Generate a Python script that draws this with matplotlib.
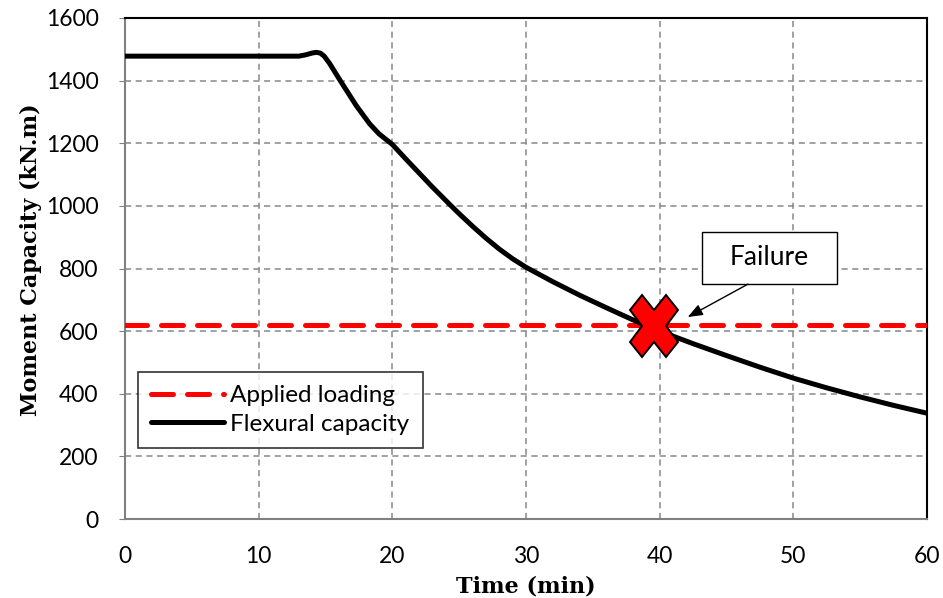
import matplotlib
matplotlib.use("Agg")
import matplotlib.pyplot as plt
from matplotlib.markers import MarkerStyle
from matplotlib.patches import Rectangle
from matplotlib.transforms import Affine2D

# flexural capacity curve
time_min = [0, 5, 10, 13.0, 13.5, 14.0, 14.3, 14.6, 14.9, 15.3, 16.1, 17.3, 18.3, 19.0,
            20.0, 21.0, 22.0, 23.0, 24.4, 25.0, 26.0, 27.0, 28.0, 29.0, 30.0, 32.0,
            34.0, 36.0, 38.0, 40.0, 42.5, 45.0, 47.5, 50.0, 52.5, 55.0, 57.5, 60.0]
capacity = [1478, 1478, 1478, 1478, 1482, 1488, 1490, 1488, 1478, 1455, 1400, 1320, 1262,
            1230, 1196, 1150, 1105, 1060, 1000, 975, 935, 897, 862, 831, 804, 758,
            715, 675, 636, 600, 560, 522, 485, 450, 419, 390, 363, 338]

load_time = [0, 60]
load_value = [620, 620]

failure_time = 39.6
failure_value = 615

x_ticks = [0, 10, 20, 30, 40, 50, 60]
y_ticks = [0, 200, 400, 600, 800, 1000, 1200, 1400, 1600]

sans = "Lato"
serif = "DejaVu Serif"

fig = plt.figure(figsize=(9.43, 5.98), dpi=100)
ax = fig.add_axes([0.1326, 0.132, 0.8504, 0.838])

ax.plot(load_time, load_value, color="#ff0000", lw=3.6, dashes=(4.4, 2.8),
        dash_capstyle="round", label="Applied loading", zorder=3)
ax.plot(time_min, capacity, color="black", lw=3.6, solid_capstyle="round",
        solid_joinstyle="round", label="Flexural capacity", zorder=4)

xmark = MarkerStyle("X", transform=Affine2D().scale(0.78, 1.0))
ax.plot([failure_time], [failure_value], marker=xmark, markersize=45,
        markerfacecolor="#ff0000", markeredgecolor="black", markeredgewidth=1.4,
        linestyle="none", zorder=5)

# "Failure" callout: box, text and arrow
ax.add_patch(Rectangle((43.15, 750), 10.1, 167, fc="white", ec="black", lw=1.0, zorder=6))
ax.text(48.2, 834, "Failure", fontsize=19, family=sans, ha="center", va="center", zorder=7)
ax.annotate("", xy=(42.1, 645), xytext=(46.6, 750),
            arrowprops=dict(arrowstyle="-|>,head_length=0.9,head_width=0.35",
                            color="black", lw=1.0, shrinkA=0, shrinkB=0),
            zorder=6)

ax.set_xlim(0, 60)
ax.set_ylim(0, 1600)
ax.set_xticks(x_ticks)
ax.set_yticks(y_ticks)
ax.grid(True, color="#888888", linestyle=(0, (4, 3)), lw=1.1)
ax.tick_params(axis="both", labelsize=16.5, color="#808080", direction="out")
ax.tick_params(axis="y", length=4, pad=15)
ax.tick_params(axis="x", length=0, pad=19.5)
for lab in ax.get_xticklabels() + ax.get_yticklabels():
    lab.set_family(sans)

for side in ("left", "bottom"):
    ax.spines[side].set_color("#808080")
    ax.spines[side].set_linewidth(1.5)
for side in ("top", "right"):
    ax.spines[side].set_color("black")
    ax.spines[side].set_linewidth(1.5)

ax.set_xlabel("Time (min)", family=serif, fontweight="bold", fontsize=16, labelpad=6)
ax.set_ylabel("Moment Capacity (kN.m)", family=serif, fontweight="bold", fontsize=16)
ax.yaxis.set_label_coords(-0.103, 0.517)

leg = ax.legend(loc="lower left", bbox_to_anchor=(0.016, 0.142),
                prop={"family": sans, "size": 17.5}, frameon=True, fancybox=False,
                handlelength=3.0, handletextpad=0.25, borderpad=0.55, labelspacing=0.3,
                borderaxespad=0)
leg.get_frame().set_edgecolor("black")
leg.get_frame().set_linewidth(1.2)

fig.savefig("out.png", dpi=100)
